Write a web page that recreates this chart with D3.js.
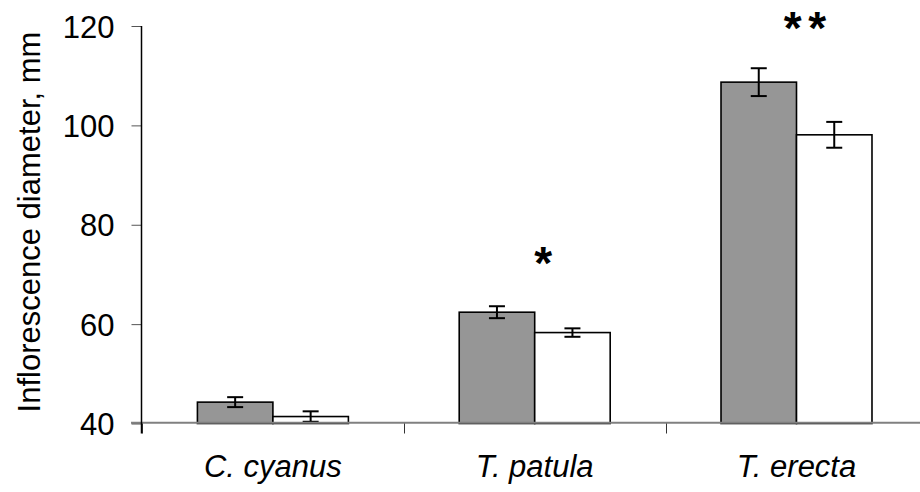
<!DOCTYPE html>
<meta charset="UTF-8">
<script src="https://d3js.org/d3.v7.min.js"></script>
<style>
  body { margin: 0; background: #fff; }
  text { font-family: "Liberation Sans", Arial, sans-serif; }
</style>
<body>
<div id="chart"></div>
<script>
// data
var species = ["C. cyanus", "T. patula", "T. erecta"];
var series = ["grey", "white"];
var greyMeans = [44.3, 62.4, 108.7];
var greyErr = [1.0, 1.2, 2.8];
var whiteMeans = [41.4, 58.3, 98.1];
var whiteErr = [1.05, 0.85, 2.6];
var yTicks = [40, 60, 80, 100, 120];
// significance marks, anchored in data units
var sigMarks = ["", "*", "**"];
var sigLevel = [null, 69.1, 116.3];

var width = 920, height = 492;
var fontSize = 31;

var svg = d3.select("#chart").append("svg")
  .attr("width", width)
  .attr("height", height);

var y = d3.scaleLinear()
  .domain([40, 120])
  .range([423.5, 26]);

var x0 = d3.scaleBand()
  .domain(species)
  .range([142, 927.4]);

var x1 = d3.scaleBand()
  .domain(series)
  .range([0, x0.bandwidth()])
  .paddingOuter(0.734);

var fills = { grey: "#969696", white: "#ffffff" };

var rows = species.map(function (s, i) {
  return [
    { sp: s, key: "grey", v: greyMeans[i], e: greyErr[i] },
    { sp: s, key: "white", v: whiteMeans[i], e: whiteErr[i] }
  ];
});

var groups = svg.append("g")
  .selectAll("g")
  .data(rows)
  .enter()
  .append("g")
    .attr("transform", function (d) { return "translate(" + x0(d[0].sp) + ",0)"; });

groups.selectAll("rect")
  .data(function (d) { return d; })
  .enter()
  .append("rect")
    .attr("x", function (d) { return x1(d.key); })
    .attr("y", function (d) { return y(d.v); })
    .attr("width", x1.bandwidth())
    .attr("height", function (d) { return y(40) - y(d.v); })
    .attr("fill", function (d) { return fills[d.key]; })
    .attr("stroke", "#000")
    .attr("stroke-width", 1.6);

// error bars
var err = groups.selectAll("g.err")
  .data(function (d) { return d; })
  .enter()
  .append("g")
    .attr("class", "err")
    .attr("stroke", "#000")
    .attr("stroke-width", 2);

err.append("line")
  .attr("x1", function (d) { return x1(d.key) + x1.bandwidth() / 2; })
  .attr("x2", function (d) { return x1(d.key) + x1.bandwidth() / 2; })
  .attr("y1", function (d) { return y(d.v - d.e); })
  .attr("y2", function (d) { return y(d.v + d.e); });

[-1, 1].forEach(function (s) {
  err.append("line")
    .attr("x1", function (d) { return x1(d.key) + x1.bandwidth() / 2 - 8; })
    .attr("x2", function (d) { return x1(d.key) + x1.bandwidth() / 2 + 8; })
    .attr("y1", function (d) { return y(d.v + s * d.e); })
    .attr("y2", function (d) { return y(d.v + s * d.e); });
});

// x axis (grey line, ticks at category edges)
var xAxis = svg.append("g");
xAxis.append("line")
  .attr("x1", 131).attr("x2", width)
  .attr("y1", y(40) - 0.8).attr("y2", y(40) - 0.8)
  .attr("stroke", "#808080")
  .attr("stroke-width", 2);
xAxis.selectAll("line.tick")
  .data(species)
  .enter()
  .append("line")
    .attr("class", "tick")
    .attr("x1", function (d) { return Math.round(x0(d)) + 0.5; })
    .attr("x2", function (d) { return Math.round(x0(d)) + 0.5; })
    .attr("y1", y(40))
    .attr("y2", y(40) + 10)
    .attr("stroke", "#333")
    .attr("stroke-width", 1);
xAxis.selectAll("text")
  .data(species)
  .enter()
  .append("text")
    .attr("x", function (d) { return x0(d) + x0.bandwidth() / 2; })
    .attr("y", 476.5)
    .attr("text-anchor", "middle")
    .attr("font-size", fontSize)
    .attr("font-style", "italic")
    .attr("fill", "#000")
    .text(function (d) { return d; });

// y axis
var yAxis = svg.append("g")
  .attr("transform", "translate(141.5,0)")
  .call(d3.axisLeft(y).tickValues(yTicks).tickSize(10).tickPadding(17).tickSizeOuter(0));
yAxis.select(".domain").remove();
yAxis.selectAll(".tick line").attr("stroke", "#555");
yAxis.selectAll(".tick text")
  .attr("font-size", fontSize)
  .attr("font-family", "Liberation Sans, Arial, sans-serif")
  .attr("fill", "#000")
  .attr("dy", "0.36em");
svg.append("line")
  .attr("x1", 141.5).attr("x2", 141.5)
  .attr("y1", y(120)).attr("y2", y(40) + 10)
  .attr("stroke", "#000")
  .attr("stroke-width", 1.5);

svg.append("text")
  .attr("transform", "translate(39.5," + 222 + ") rotate(-90)")
  .attr("text-anchor", "middle")
  .attr("font-size", fontSize)
  .attr("fill", "#000")
  .text("Inflorescence diameter, mm");

// significance asterisks
var spacing = 6.5;
svg.append("g")
  .selectAll("text")
  .data(species.filter(function (d, i) { return sigLevel[i] !== null; }))
  .enter()
  .append("text")
    .attr("x", function (d) { return x0(d) + x0.bandwidth() / 2 + 8.5 + spacing / 2; })
    .attr("y", function (d) { return y(sigLevel[species.indexOf(d)]); })
    .attr("text-anchor", "middle")
    .attr("font-size", 46)
    .attr("font-weight", "bold")
    .attr("letter-spacing", spacing)
    .attr("fill", "#000")
    .text(function (d) { return sigMarks[species.indexOf(d)]; });
</script>
</body>
